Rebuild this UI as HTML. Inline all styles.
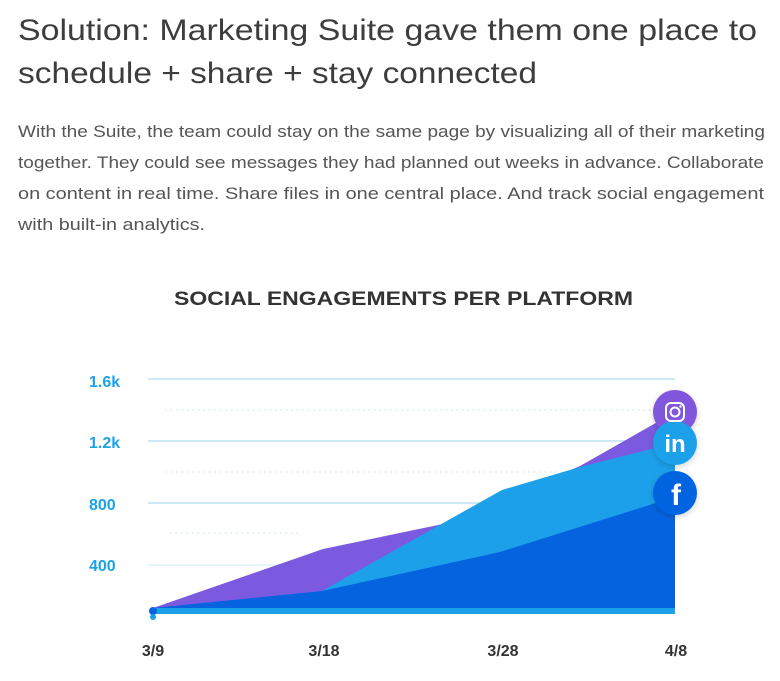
<!DOCTYPE html>
<html><head><meta charset="utf-8"><style>
html,body{margin:0;padding:0;background:#fff;}
svg{display:block;}
</style></head><body>
<svg width="780" height="681" viewBox="0 0 780 681" xmlns="http://www.w3.org/2000/svg">
<defs>
<filter id="sh" x="-50%" y="-50%" width="200%" height="200%"><feDropShadow dx="0" dy="2" stdDeviation="3" flood-color="#000" flood-opacity="0.18"/></filter>
</defs>
<g font-family="Liberation Sans, sans-serif">
<text x="18" y="40" font-size="30" fill="#3d3d3d" textLength="739" lengthAdjust="spacingAndGlyphs">Solution: Marketing Suite gave them one place to</text>
<text x="18" y="83" font-size="30" fill="#3d3d3d" textLength="519" lengthAdjust="spacingAndGlyphs">schedule + share + stay connected</text>
<g font-size="17" fill="#555">
<text x="18" y="137" textLength="747" lengthAdjust="spacingAndGlyphs">With the Suite, the team could stay on the same page by visualizing all of their marketing</text>
<text x="18" y="168" textLength="746" lengthAdjust="spacingAndGlyphs">together. They could see messages they had planned out weeks in advance. Collaborate</text>
<text x="18" y="199" textLength="746" lengthAdjust="spacingAndGlyphs">on content in real time. Share files in one central place. And track social engagement</text>
<text x="18" y="230" textLength="187" lengthAdjust="spacingAndGlyphs">with built-in analytics.</text>
</g>
<text x="174" y="305" font-size="19" font-weight="bold" fill="#333" textLength="459" lengthAdjust="spacingAndGlyphs">SOCIAL ENGAGEMENTS PER PLATFORM</text>
</g>
<g stroke="#cde9f6" stroke-width="2">
<line x1="148" y1="379" x2="675" y2="379"/>
<line x1="148" y1="441" x2="675" y2="441"/>
<line x1="148" y1="503" x2="675" y2="503"/>
<line x1="148" y1="565" x2="675" y2="565" stroke="#e6f4fa"/>
</g>
<g stroke="#d6ecf5" stroke-width="1.5" stroke-dasharray="1.5 4">
<line x1="165" y1="410" x2="660" y2="410"/>
<line x1="165" y1="472" x2="660" y2="472"/>
<line x1="170" y1="533" x2="300" y2="533"/>
</g>
<g font-family="Liberation Sans, sans-serif" font-size="16" font-weight="bold" fill="#1aa3e8">
<text x="89" y="387">1.6k</text>
<text x="89" y="448">1.2k</text>
<text x="89" y="510">800</text>
<text x="89" y="571">400</text>
</g>
<polygon points="153,608 323,549 443,524 580,466 661,420 675,412 675,614 153,614" fill="#7b5ae0"/>
<polygon points="153,610 322,591 502,490 580,467 675,443 675,614 153,614" fill="#1ca0ea"/>
<polygon points="153,608 322,591 500,552 675,497 675,614 153,614" fill="#0563e0"/>
<rect x="153" y="608" width="522" height="6" fill="#1ca0ea"/>
<circle cx="153" cy="611" r="4" fill="#0563e0"/>
<circle cx="153" cy="617" r="3" fill="#1ca0ea"/>
<g filter="url(#sh)">
<circle cx="675" cy="412" r="22" fill="#7f56dc"/>
<circle cx="675" cy="443" r="22" fill="#1ca0ea"/>
<circle cx="675" cy="493" r="22" fill="#0563e0"/>
</g>
<rect x="666" y="403" width="18" height="18" rx="5" fill="none" stroke="#fff" stroke-width="2"/>
<circle cx="675" cy="412" r="4.5" fill="none" stroke="#fff" stroke-width="2"/>
<circle cx="680.5" cy="406.5" r="1.2" fill="#fff"/>
<text x="675" y="452" text-anchor="middle" font-family="Liberation Sans, sans-serif" font-size="24" font-weight="bold" fill="#fff">in</text>
<text x="676" y="505" text-anchor="middle" font-family="Liberation Sans, sans-serif" font-size="30" font-weight="bold" fill="#fff">f</text>
<g font-family="Liberation Sans, sans-serif" font-size="16" font-weight="bold" fill="#333" text-anchor="middle">
<text x="153" y="656">3/9</text>
<text x="324" y="656">3/18</text>
<text x="503" y="656">3/28</text>
<text x="676" y="656">4/8</text>
</g>
</svg>
</body></html>
